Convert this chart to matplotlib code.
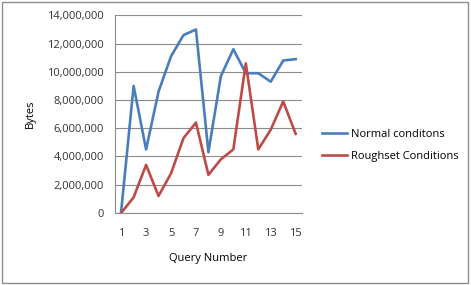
import matplotlib
matplotlib.use("Agg")
import matplotlib.pyplot as plt
from matplotlib.ticker import FuncFormatter

# query numbers and bytes transferred
queries = list(range(1, 16))
normal = [100000, 9000000, 4500000, 8600000, 11100000, 12600000, 13000000,
          4300000, 9700000, 11600000, 9900000, 9900000, 9300000, 10800000, 10900000]
roughset = [0, 1100000, 3400000, 1200000, 2800000, 5300000, 6400000,
            2700000, 3800000, 4500000, 10600000, 4500000, 5900000, 7900000, 5600000]
xlabels = [str(q) if q % 2 == 1 else "" for q in queries]

plt.rcParams['font.family'] = ['Open Sans', 'DejaVu Sans']

fig = plt.figure(figsize=(4.71, 2.85), dpi=100)
ax = fig.add_axes([0.244, 0.253, 0.397, 0.693])

ax.plot(queries, normal, color='#4A7EBB', lw=1.9, label='Normal conditons')
ax.plot(queries, roughset, color='#BE4B48', lw=1.9, label='Roughset Conditions')

ax.set_xlim(0.5, 15.5)
ax.set_ylim(0, 14000000)
ax.set_yticks(range(0, 14000001, 2000000))
ax.yaxis.set_major_formatter(FuncFormatter(lambda v, p: "{:,}".format(int(v))))
ax.set_xticks(queries)
ax.set_xticklabels(xlabels)
ax.tick_params(axis='both', labelsize=8, length=0, colors='#333333')
ax.tick_params(axis='x', pad=11)
ax.tick_params(axis='y', pad=8)
ax.grid(axis='y', color='#8C8C8C', lw=0.8)
ax.set_axisbelow(True)
for s in ['top', 'right']:
    ax.spines[s].set_visible(False)
ax.spines['left'].set_color('#8C8C8C')
ax.spines['bottom'].set_color('#8C8C8C')

ax.set_ylabel("Bytes", fontsize=8, labelpad=8)
ax.set_xlabel("Query Number", fontsize=8, labelpad=10)

fig.legend(loc='upper left', bbox_to_anchor=(0.662, 0.582), frameon=False,
           fontsize=8, handlelength=2.3, labelspacing=0.95, handletextpad=0.3)

# outer chart border
fig.patches.append(plt.Rectangle((0.004, 0.007), 0.99, 0.985, transform=fig.transFigure,
                                 fill=False, edgecolor='#8C8C8C', lw=1))

fig.savefig("out.png", dpi=100)
